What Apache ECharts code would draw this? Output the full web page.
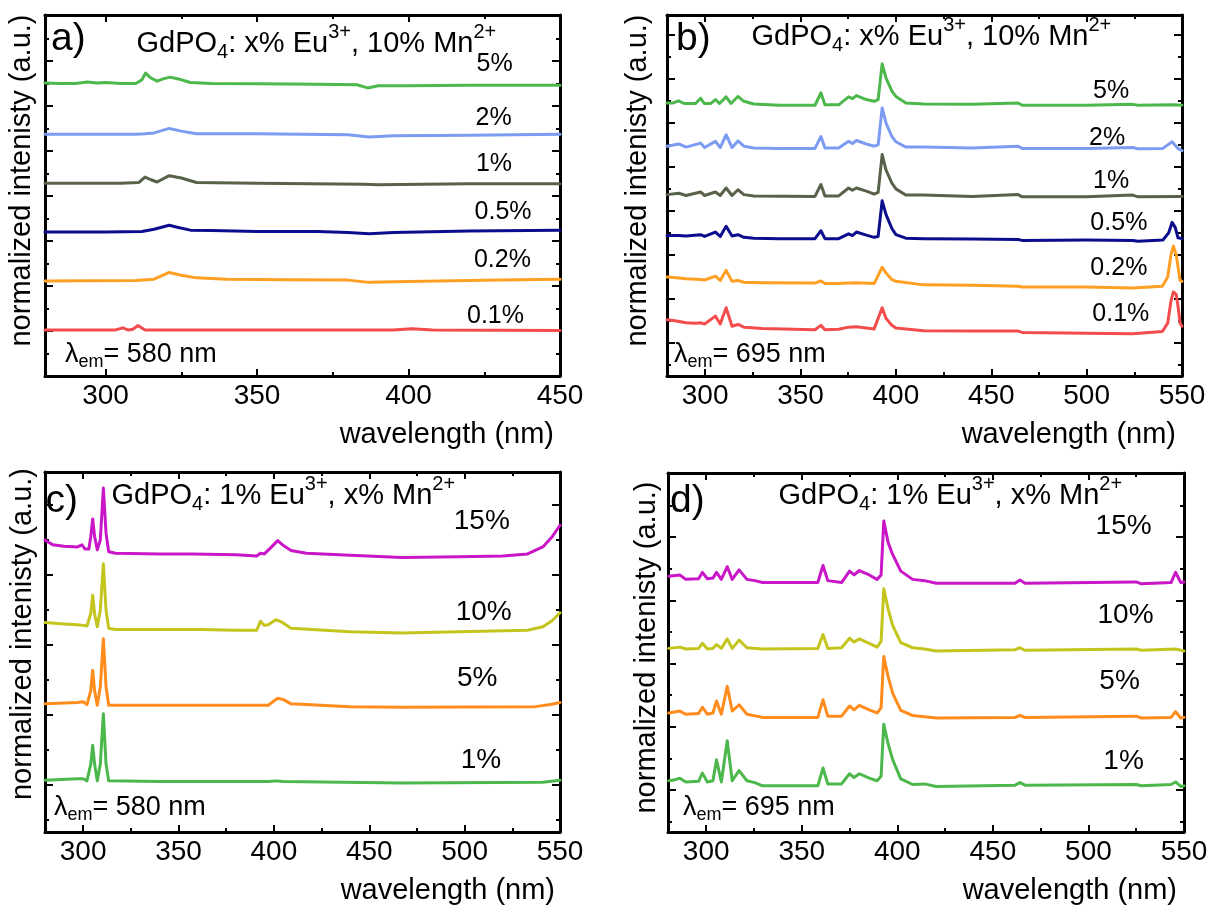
<!DOCTYPE html>
<html>
<head>
<meta charset="utf-8">
<script src="https://cdn.jsdelivr.net/npm/echarts@6/dist/echarts.min.js"></script>
<style>
html,body{margin:0;padding:0;background:#fff;}
#c{width:1221px;height:909px;}
</style>
</head>
<body>
<div id="c"></div>
<script>
// ---------------- data (wavelength nm, offset normalized intensity) ----------------
// panel a : GdPO4: x% Eu3+, 10% Mn2+, lambda_em = 580 nm
const a5  = [[280,6.51],[285,6.50],[290,6.50],[294,6.53],[297,6.51],[300,6.52],[305,6.50],[310,6.50],[312,6.58],[313.2,6.73],[315,6.62],[317,6.55],[319,6.60],[321.3,6.64],[324,6.60],[328,6.52],[335,6.50],[350,6.49],[370,6.48],[383,6.47],[386.5,6.40],[390,6.45],[400,6.45],[420,6.46],[450,6.46]];
const a2  = [[280,5.37],[300,5.37],[310,5.37],[313,5.38],[316,5.40],[321,5.50],[325,5.44],[330,5.38],[350,5.38],[380,5.36],[387,5.31],[395,5.34],[420,5.35],[450,5.37]];
const a1  = [[280,4.28],[305,4.28],[311,4.30],[313,4.42],[315,4.36],[317,4.31],[321,4.45],[325,4.40],[330,4.30],[350,4.28],[385,4.26],[390,4.25],[420,4.27],[450,4.27]];
const a05 = [[280,3.20],[300,3.20],[312,3.21],[316,3.26],[321,3.35],[324,3.30],[328,3.24],[335,3.23],[350,3.21],[370,3.21],[380,3.19],[387,3.16],[395,3.19],[420,3.22],[450,3.24]];
const a02 = [[280,2.11],[310,2.12],[316,2.15],[321,2.30],[325,2.24],[330,2.18],[340,2.15],[360,2.14],[380,2.13],[387,2.08],[400,2.10],[430,2.13],[450,2.15]];
const a01 = [[280,1.02],[303,1.02],[305.7,1.07],[307.5,1.02],[309,1.04],[310.7,1.12],[313,1.02],[350,1.02],[395,1.02],[401,1.05],[408,1.02],[450,1.01]];

// panel b : GdPO4: x% Eu3+, 10% Mn2+, lambda_em = 695 nm
const b5  = [[280,5.45],[283,5.45],[286,5.50],[289,5.44],[295,5.44],[297.6,5.56],[299.5,5.44],[303,5.44],[305.4,5.53],[307.5,5.44],[311,5.59],[313.5,5.44],[317.2,5.60],[320.3,5.49],[325.5,5.43],[339,5.40],[357.6,5.40],[360.7,5.68],[362.8,5.41],[370,5.41],[375.2,5.59],[377.2,5.55],[379.3,5.62],[384.5,5.53],[388.6,5.49],[390.7,5.53],[392.8,6.34],[394.8,6.02],[397.9,5.72],[400,5.60],[405.2,5.45],[414.5,5.43],[440,5.42],[464.1,5.45],[466.2,5.40],[500,5.40],[524.1,5.42],[527,5.40],[544.8,5.41],[550,5.40]];
const b2  = [[280,4.47],[286.2,4.52],[290,4.45],[297.6,4.54],[299.7,4.44],[305.4,4.58],[307.9,4.44],[311,4.73],[314.1,4.44],[317.2,4.59],[320.3,4.47],[325.5,4.43],[339,4.42],[357.6,4.42],[360.7,4.69],[362.8,4.43],[370,4.43],[375.2,4.58],[377.2,4.53],[379.3,4.60],[384.5,4.52],[388.6,4.47],[390.7,4.50],[392.8,5.34],[394.8,5.00],[397.9,4.69],[400,4.57],[405.2,4.45],[414.5,4.45],[440,4.43],[464.1,4.47],[466.2,4.42],[500,4.42],[524.1,4.44],[527,4.41],[540,4.42],[544.8,4.57],[547.9,4.42],[550,4.37]];
const b1  = [[280,3.37],[286.2,3.40],[290,3.35],[297.6,3.43],[299.7,3.35],[305.4,3.43],[307.9,3.35],[311,3.52],[314.1,3.35],[317.2,3.48],[320.3,3.37],[325.5,3.34],[357.6,3.33],[360.7,3.60],[362.8,3.34],[370,3.34],[375.2,3.52],[377.2,3.47],[379.3,3.52],[384.5,3.45],[388.6,3.38],[390.7,3.42],[392.8,4.28],[394.8,3.93],[397.9,3.63],[400,3.50],[405.2,3.36],[414.5,3.36],[440,3.33],[464.1,3.37],[466.2,3.32],[500,3.32],[524.1,3.36],[527,3.32],[550,3.33]];
const b05 = [[280,2.44],[286.2,2.44],[290,2.43],[297.6,2.46],[299.7,2.42],[305.4,2.52],[307.9,2.42],[311,2.65],[314.1,2.43],[317.2,2.46],[320.3,2.40],[325.5,2.38],[339,2.37],[357.6,2.37],[360.7,2.55],[362.8,2.37],[370,2.37],[375.2,2.48],[377.2,2.44],[379.3,2.52],[384.5,2.45],[388.6,2.40],[390.7,2.42],[392.8,3.23],[394.8,2.92],[397.9,2.60],[400,2.46],[405.2,2.38],[414.5,2.37],[440,2.36],[464.1,2.35],[466.2,2.33],[500,2.34],[524.1,2.33],[527,2.31],[540,2.34],[543,2.50],[544.8,2.74],[546.5,2.62],[547.9,2.39],[550,2.37]];
const b02 = [[280,1.50],[285,1.48],[290,1.46],[297.6,1.44],[299.7,1.43],[305.4,1.52],[307.9,1.42],[311,1.65],[314.1,1.40],[317.2,1.42],[320.3,1.38],[330,1.37],[357.6,1.36],[360.7,1.41],[362.8,1.35],[370,1.35],[375.2,1.36],[379.3,1.37],[388.6,1.35],[392.8,1.72],[394.8,1.59],[397.9,1.44],[400,1.40],[414.5,1.32],[440,1.31],[464.1,1.29],[466.2,1.27],[500,1.27],[524.1,1.25],[539.7,1.29],[542.5,1.50],[544.2,2.00],[545.5,2.20],[547,2.00],[548,1.70],[549,1.42],[550,1.40]];
const b01 = [[280,0.53],[285,0.50],[290,0.46],[295,0.45],[297.6,0.46],[299.7,0.43],[305.4,0.61],[307.9,0.43],[311,0.80],[314.1,0.38],[317.2,0.42],[320.3,0.36],[330,0.33],[357.6,0.30],[360.7,0.40],[362.8,0.30],[370,0.31],[375.2,0.36],[379.3,0.37],[388.6,0.32],[392.8,0.80],[394.8,0.56],[397.9,0.40],[400,0.34],[414.5,0.28],[440,0.27],[464.1,0.27],[466.2,0.24],[500,0.22],[524.1,0.21],[539.7,0.26],[542.5,0.45],[544.2,0.95],[545.5,1.16],[547,1.10],[548,0.80],[549,0.45],[550,0.38]];

// panel c : GdPO4: 1% Eu3+, x% Mn2+, lambda_em = 580 nm
const c15 = [[280,3.50],[284,3.43],[290,3.41],[297,3.40],[299.4,3.43],[301,3.37],[303,3.37],[304,3.55],[305,3.80],[306,3.55],[307.4,3.36],[309,3.50],[310.6,4.24],[312,3.60],[313.4,3.33],[317,3.31],[340,3.30],[357,3.30],[380,3.29],[391,3.27],[393,3.31],[395,3.30],[398,3.38],[402,3.49],[405,3.42],[409,3.35],[417,3.31],[440,3.28],[467,3.25],[497,3.26],[520,3.27],[533,3.30],[541,3.40],[546,3.55],[550,3.71]];
const c10 = [[280,2.32],[290,2.30],[297,2.29],[300,2.28],[302,2.27],[304,2.45],[305,2.71],[306,2.45],[307.4,2.26],[309,2.50],[310.6,3.16],[312,2.50],[313.4,2.24],[317,2.22],[340,2.22],[360,2.22],[361,2.24],[362,2.22],[380,2.21],[391,2.21],[393,2.34],[395,2.28],[397,2.29],[401,2.36],[404,2.33],[409,2.24],[440,2.19],[467,2.17],[497,2.19],[533,2.21],[541,2.26],[546,2.35],[550,2.46]];
const c5  = [[280,1.16],[297,1.18],[300,1.19],[302,1.15],[304,1.35],[305,1.64],[306,1.35],[307.4,1.14],[309,1.40],[310.6,2.09],[312,1.40],[313.4,1.14],[340,1.14],[357,1.14],[397,1.14],[402,1.24],[405,1.22],[409,1.16],[440,1.12],[467,1.11],[537,1.12],[545,1.15],[550,1.18]];
const c1  = [[280,0.07],[297,0.09],[300,0.09],[302,0.06],[304,0.30],[305,0.57],[306,0.30],[307.4,0.06],[309,0.30],[310.6,1.02],[312,0.30],[313.4,0.06],[340,0.05],[397,0.05],[401,0.06],[405,0.05],[467,0.03],[541,0.04],[550,0.07]];

// panel d : GdPO4: 1% Eu3+, x% Mn2+, lambda_em = 695 nm
const d15 = [[280.4,3.38],[286.2,3.40],[289.3,3.33],[296,3.34],[298,3.44],[300.6,3.34],[303.5,3.35],[305.4,3.44],[307.9,3.33],[311,3.53],[313.6,3.33],[317.2,3.48],[321.3,3.33],[325.4,3.31],[329.5,3.28],[358.4,3.28],[361.1,3.55],[363.6,3.31],[370.8,3.28],[375,3.46],[377.4,3.40],[380.1,3.47],[385.3,3.40],[389.4,3.33],[391.5,3.40],[392.9,4.25],[395.2,3.91],[397.6,3.72],[401.8,3.46],[408,3.33],[414.2,3.31],[420.4,3.27],[461.6,3.27],[464.1,3.32],[466.8,3.27],[525,3.29],[527.7,3.26],[543.2,3.28],[545.6,3.44],[548.3,3.28],[550,3.29]];
const d10 = [[280.4,2.24],[286.2,2.26],[289.3,2.23],[296,2.24],[298,2.32],[300.6,2.23],[303.5,2.24],[305.4,2.30],[307.9,2.24],[311,2.39],[313.6,2.24],[317.2,2.37],[321.3,2.25],[329.5,2.23],[358.4,2.24],[361.1,2.46],[363.6,2.24],[370.8,2.25],[375,2.40],[377.4,2.34],[380.1,2.39],[385.3,2.32],[389.4,2.26],[391.5,2.35],[392.9,3.18],[395.2,2.86],[397.6,2.60],[401.8,2.33],[408,2.25],[414.2,2.23],[420.4,2.20],[461.6,2.22],[464.1,2.25],[466.8,2.21],[525,2.23],[527.7,2.21],[545.6,2.23],[550,2.20]];
const d5  = [[280.4,1.22],[286.2,1.25],[289.3,1.20],[296,1.21],[298,1.31],[300.6,1.20],[303.5,1.22],[305.4,1.41],[307.9,1.20],[311,1.64],[313.6,1.25],[317.2,1.35],[321.3,1.20],[329.5,1.15],[358.4,1.15],[361.1,1.43],[363.6,1.17],[370.8,1.17],[375,1.33],[377.4,1.27],[380.1,1.34],[385.3,1.27],[389.4,1.22],[391.5,1.30],[392.9,2.11],[395.2,1.79],[397.6,1.53],[401.8,1.26],[408,1.18],[420.4,1.14],[461.6,1.15],[464.1,1.18],[466.8,1.15],[525,1.17],[527.7,1.14],[543.2,1.15],[545.6,1.24],[548.3,1.14],[550,1.15]];
const d1  = [[280.4,0.15],[283,0.16],[286.2,0.19],[289.3,0.13],[296,0.14],[298,0.27],[300.6,0.13],[303.5,0.15],[305.4,0.48],[307.9,0.13],[311,0.78],[313.6,0.15],[317.2,0.31],[321.3,0.15],[325.4,0.12],[329.5,0.07],[358.4,0.07],[361.1,0.35],[363.6,0.10],[370.8,0.10],[375,0.26],[377.4,0.20],[380.1,0.26],[385.3,0.19],[389.4,0.15],[391.5,0.22],[392.9,1.04],[395.2,0.73],[397.6,0.48],[401.8,0.18],[408,0.09],[414.2,0.10],[420.4,0.06],[461.6,0.08],[464.1,0.12],[466.8,0.08],[525,0.09],[527.7,0.07],[543.2,0.09],[545.6,0.13],[548.3,0.06],[550,0.07]];

// curve labels: [wavelength, intensity, text]
const labelsA = [[428.4,6.92,'5%'],[428.1,5.72,'2%'],[428.2,4.71,'1%'],[431.2,3.64,'0.5%'],[431,2.58,'0.2%'],[428.7,1.32,'0.1%']];
const labelsB = [[512.8,5.72,'5%'],[510.7,4.66,'2%'],[512.8,3.68,'1%'],[516.9,2.73,'0.5%'],[516.9,1.70,'0.2%'],[517.9,0.65,'0.1%']];
const labelsC = [[509,3.76,'15%'],[510,2.47,'10%'],[506.6,1.52,'5%'],[508.6,0.36,'1%']];
const labelsD = [[518.4,4.17,'15%'],[519.4,2.76,'10%'],[516.3,1.72,'5%'],[518.4,0.46,'1%']];

// axis ranges
const xMin = [280, 280, 280, 280];
const xMax = [450, 550, 550, 550];
const xStep = 50;
const yMin = [0, -0.75, -0.67, -0.66];
const yMax = [8.02, 7.45, 4.47, 5.01];
const yStep = 1;

const panelLetters = ['a)', 'b)', 'c)', 'd)'];
const panelTitles = [
  ['x% Eu', '10% Mn'], ['x% Eu', '10% Mn'], ['1% Eu', 'x% Mn'], ['1% Eu', 'x% Mn']
];
const emWavelengths = ['580 nm', '695 nm', '580 nm', '695 nm'];
const xName = 'wavelength (nm)';
const yName = 'normalized intenisty (a.u.)';

// ---------------- styling / layout ----------------
const FONT = '"Liberation Sans", Arial, Helvetica, sans-serif';
const COL = {
  green: '#4cb84c', blue: '#7c9cf2', olive: '#58624a', navy: '#0c0c8e',
  orange: '#ffa024', red: '#f24c4c', magenta: '#c816c8', yellow: '#c4c41e', orange2: '#ff8c1c'
};
const panels = [
  {curves: [[a5, COL.green], [a2, COL.blue], [a1, COL.olive], [a05, COL.navy], [a02, COL.orange], [a01, COL.red]], labels: labelsA, lblSize: 25},
  {curves: [[b5, COL.green], [b2, COL.blue], [b1, COL.olive], [b05, COL.navy], [b02, COL.orange], [b01, COL.red]], labels: labelsB, lblSize: 25},
  {curves: [[c15, COL.magenta], [c10, COL.yellow], [c5, COL.orange2], [c1, COL.green]], labels: labelsC, lblSize: 28},
  {curves: [[d15, COL.magenta], [d10, COL.yellow], [d5, COL.orange2], [d1, COL.green]], labels: labelsD, lblSize: 28}
];
const grids = [
  {left: 45, top: 15, width: 515, height: 361},
  {left: 667, top: 15, width: 515, height: 361},
  {left: 45, top: 472, width: 515, height: 360},
  {left: 668, top: 473, width: 516, height: 359}
];
const yNameGap = [9, 15, 8, 7];
const yNameShift = [30, 30, 36, 10];
const xNameGap = [-6, -6, -5, -7];

const lineAx = {show: true, onZero: false, lineStyle: {color: '#000', width: 3}};
function makeX(i, top) {
  return {
    type: 'value', gridIndex: i, position: top ? 'top' : 'bottom',
    min: xMin[i], max: xMax[i], minInterval: xStep, maxInterval: xStep,
    axisLine: lineAx,
    axisTick: {show: true, inside: true, length: 7, lineStyle: {color: '#000', width: 2}},
    minorTick: {show: true, splitNumber: 2, length: 4, lineStyle: {color: '#000', width: 2}},
    splitLine: {show: false}, minorSplitLine: {show: false},
    axisLabel: {show: !top, color: '#000', fontSize: 28, fontFamily: FONT, margin: 6, showMinLabel: false, showMaxLabel: true},
    name: top ? '' : xName,
    nameLocation: 'end', nameGap: xNameGap[i], nameMoveOverlap: false,
    nameTextStyle: {color: '#000', fontSize: 29, fontFamily: FONT, align: 'right', verticalAlign: 'top', padding: [44, 0, 0, 0]}
  };
}
function makeY(i, right) {
  return {
    type: 'value', gridIndex: i, position: right ? 'right' : 'left',
    min: yMin[i], max: yMax[i], minInterval: yStep, maxInterval: yStep,
    axisLine: lineAx,
    axisTick: {show: true, inside: true, length: 8, lineStyle: {color: '#000', width: 2}},
    minorTick: {show: true, splitNumber: 2, length: 4, lineStyle: {color: '#000', width: 2}},
    splitLine: {show: false}, minorSplitLine: {show: false},
    axisLabel: {show: false},
    name: right ? '' : yName,
    nameLocation: 'middle', nameGap: yNameGap[i], nameMoveOverlap: false,
    nameTextStyle: {color: '#000', fontSize: 29, fontFamily: FONT, padding: [0, 0, 0, yNameShift[i]]}
  };
}

const xAxis = [], yAxis = [], series = [];
panels.forEach((p, i) => {
  xAxis.push(makeX(i, false), makeX(i, true));
  yAxis.push(makeY(i, false), makeY(i, true));
  p.curves.forEach(([data, color]) => {
    series.push({
      type: 'line', xAxisIndex: 2 * i, yAxisIndex: 2 * i, data: data,
      showSymbol: false, symbol: 'none', smooth: false, z: 3,
      lineStyle: {color: color, width: 3, cap: 'round', join: 'round'}
    });
  });
  series.push({
    type: 'scatter', xAxisIndex: 2 * i, yAxisIndex: 2 * i, data: p.labels,
    symbolSize: 0, itemStyle: {color: '#000', opacity: 1}, z: 4, silent: true,
    label: {show: true, position: 'inside', color: '#000', opacity: 1, fontSize: p.lblSize, fontFamily: FONT,
            textBorderWidth: 0, formatter: (q) => q.data[2]}
  });
});

// text blocks: [left, top] for title, letter, lambda label
const titlePos = [[136.5, 22.6], [751.5, 15.6], [111.5, 474.6], [778.5, 474.6]];
const letterPos = [[51, 20], [676, 20], [45.5, 482], [670, 482]];
const lambdaPos = [[65, 337.5], [674, 337.5], [54, 790.5], [683, 790.5]];

const richMain = {
  m: {fontSize: 29, fontWeight: 'normal', fontFamily: FONT, color: '#000', lineHeight: 42},
  sup: {fontSize: 20, fontWeight: 'normal', fontFamily: FONT, color: '#000', verticalAlign: 'top'},
  sub: {fontSize: 20, fontWeight: 'normal', fontFamily: FONT, color: '#000', verticalAlign: 'bottom', padding: [0, 0, 2, 0]}
};
const richLam = {
  m: {fontSize: 27, fontWeight: 'normal', fontFamily: FONT, color: '#000', lineHeight: 34},
  sub: {fontSize: 18, fontWeight: 'normal', fontFamily: FONT, color: '#000', verticalAlign: 'bottom'}
};
const titles = [];
panels.forEach((p, i) => {
  const t = panelTitles[i];
  titles.push({
    left: titlePos[i][0], top: titlePos[i][1], padding: 0, itemGap: 0,
    text: '{m|GdPO}{sub|4}{m|: ' + t[0] + '}{sup|3+}{m|, ' + t[1] + '}{sup|2+}',
    textStyle: {fontWeight: 'normal', rich: richMain}
  });
  titles.push({
    left: letterPos[i][0], top: letterPos[i][1], padding: 0,
    text: panelLetters[i],
    textStyle: {fontSize: 39, fontWeight: 'normal', fontFamily: FONT, color: '#000', lineHeight: 39}
  });
  titles.push({
    left: lambdaPos[i][0], top: lambdaPos[i][1], padding: 0,
    text: '{m|λ}{sub|em}{m|= ' + emWavelengths[i] + '}',
    textStyle: {fontWeight: 'normal', rich: richLam}
  });
});

const chart = echarts.init(document.getElementById('c'), null, {renderer: 'canvas', width: 1221, height: 909});
chart.setOption({
  animation: false,
  backgroundColor: '#fff',
  title: titles,
  grid: grids.map(g => Object.assign({containLabel: false, outerBoundsMode: 'none', show: false}, g)),
  xAxis: xAxis,
  yAxis: yAxis,
  series: series
});
</script>
</body>
</html>
